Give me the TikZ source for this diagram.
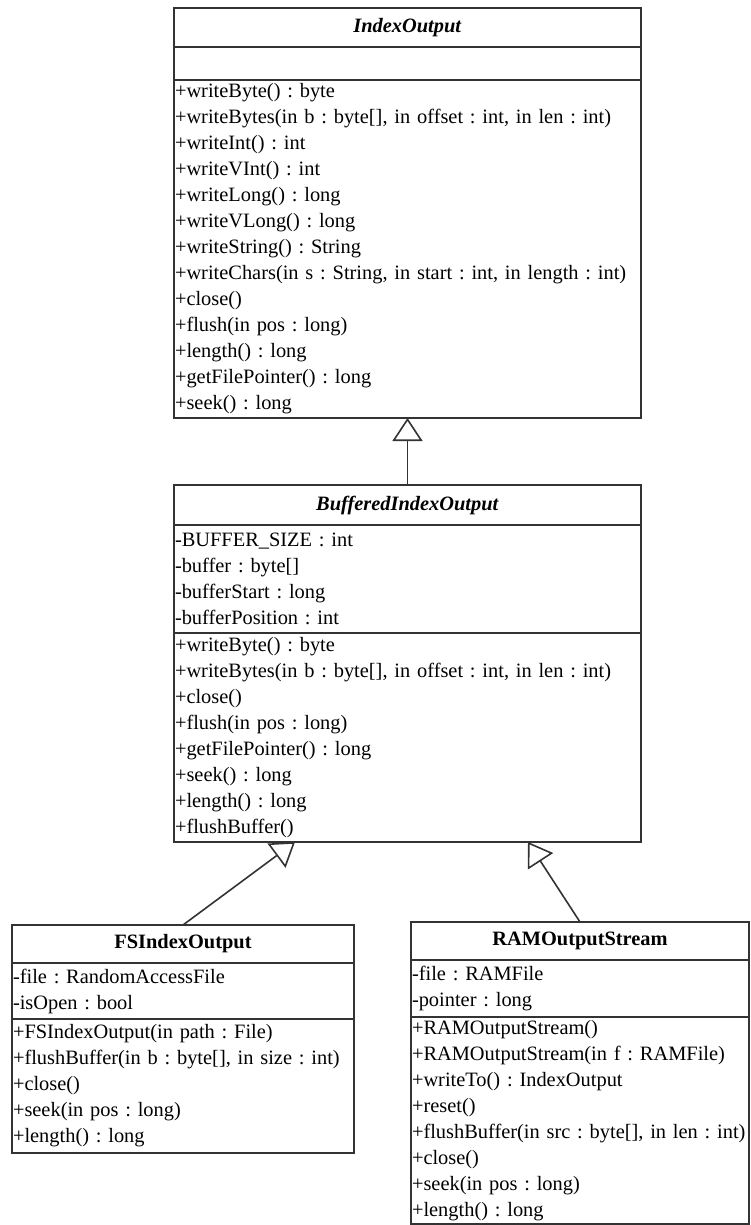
\documentclass[tikz,border=0pt]{standalone}
\usepackage{fontspec}
\setmainfont{Liberation Serif}
\usetikzlibrary{positioning,arrows.meta}
\frenchspacing

\begin{document}
\begin{tikzpicture}[x=1pt, y=1pt,
    box/.style={rectangle, draw=black!80, line width=1.5pt, fill=white, outer sep=0pt, inner xsep=1pt, inner ysep=1pt, font=\fontsize{20.4}{26}\selectfont\frenchspacing},
    title/.style={box, align=center},
    members/.style={box, align=left},
    inherit/.style={-{Triangle[open, length=23pt, width=30pt]}, line width=1.6pt, draw=black!80}]
    \useasboundingbox (0,0) rectangle (750,-1225);
    % Nodes
    \node (idx) [title, text width=465pt, minimum height=39pt, anchor=north] at (407.5,-8) {\textbf{\textit{IndexOutput}}};
    \node (idxattr) [members, text width=465pt, minimum height=33pt, below=0pt of idx] {};
    \node (idxops) [members, text width=465pt, minimum height=338pt, below=0pt of idxattr] {+writeByte() : byte\\+writeBytes(in b : byte[], in offset : int, in len : int)\\+writeInt() : int\\+writeVInt() : int\\+writeLong() : long\\+writeVLong() : long\\+writeString() : String\\+writeChars(in s : String, in start : int, in length : int)\\+close()\\+flush(in pos : long)\\+length() : long\\+getFilePointer() : long\\+seek() : long};

    \node (buf) [title, text width=465pt, minimum height=40pt, below=67pt of idxops] {\textbf{\textit{BufferedIndexOutput}}};
    \node (bufattr) [members, text width=465pt, minimum height=108pt, below=0pt of buf] {-BUFFER\_SIZE : int\\-buffer : byte[]\\-bufferStart : long\\-bufferPosition : int};
    \node (bufops) [members, text width=465pt, minimum height=209pt, below=0pt of bufattr] {+writeByte() : byte\\+writeBytes(in b : byte[], in offset : int, in len : int)\\+close()\\+flush(in pos : long)\\+getFilePointer() : long\\+seek() : long\\+length() : long\\+flushBuffer()};

    \node (fs) [title, text width=340pt, minimum height=38pt, below=83pt of bufops, xshift=-224.5pt] {\textbf{FSIndexOutput}};
    \node (fsattr) [members, text width=340pt, minimum height=56pt, below=0pt of fs] {-file : RandomAccessFile\\-isOpen : bool};
    \node (fsops) [members, text width=340pt, minimum height=134pt, below=0pt of fsattr] {+FSIndexOutput(in path : File)\\+flushBuffer(in b : byte[], in size : int)\\+close()\\+seek(in pos : long)\\+length() : long};

    \node (ram) [title, text width=336pt, minimum height=38pt, below=80pt of bufops, xshift=172.5pt] {\textbf{RAMOutputStream}};
    \node (ramattr) [members, text width=336pt, minimum height=57pt, below=0pt of ram] {-file : RAMFile\\-pointer : long};
    \node (ramops) [members, text width=336pt, minimum height=207pt, below=0pt of ramattr] {+RAMOutputStream()\\+RAMOutputStream(in f : RAMFile)\\+writeTo() : IndexOutput\\+reset()\\+flushBuffer(in src : byte[], in len : int)\\+close()\\+seek(in pos : long)\\+length() : long};

    % Connections
    \draw [inherit] (buf) -- (idxops);
    \draw [inherit] (fs.north) -- ([xshift=-112.5pt]bufops.south);
    \draw [inherit] (ram.north) -- ([xshift=120.5pt]bufops.south);
\end{tikzpicture}
\end{document}
